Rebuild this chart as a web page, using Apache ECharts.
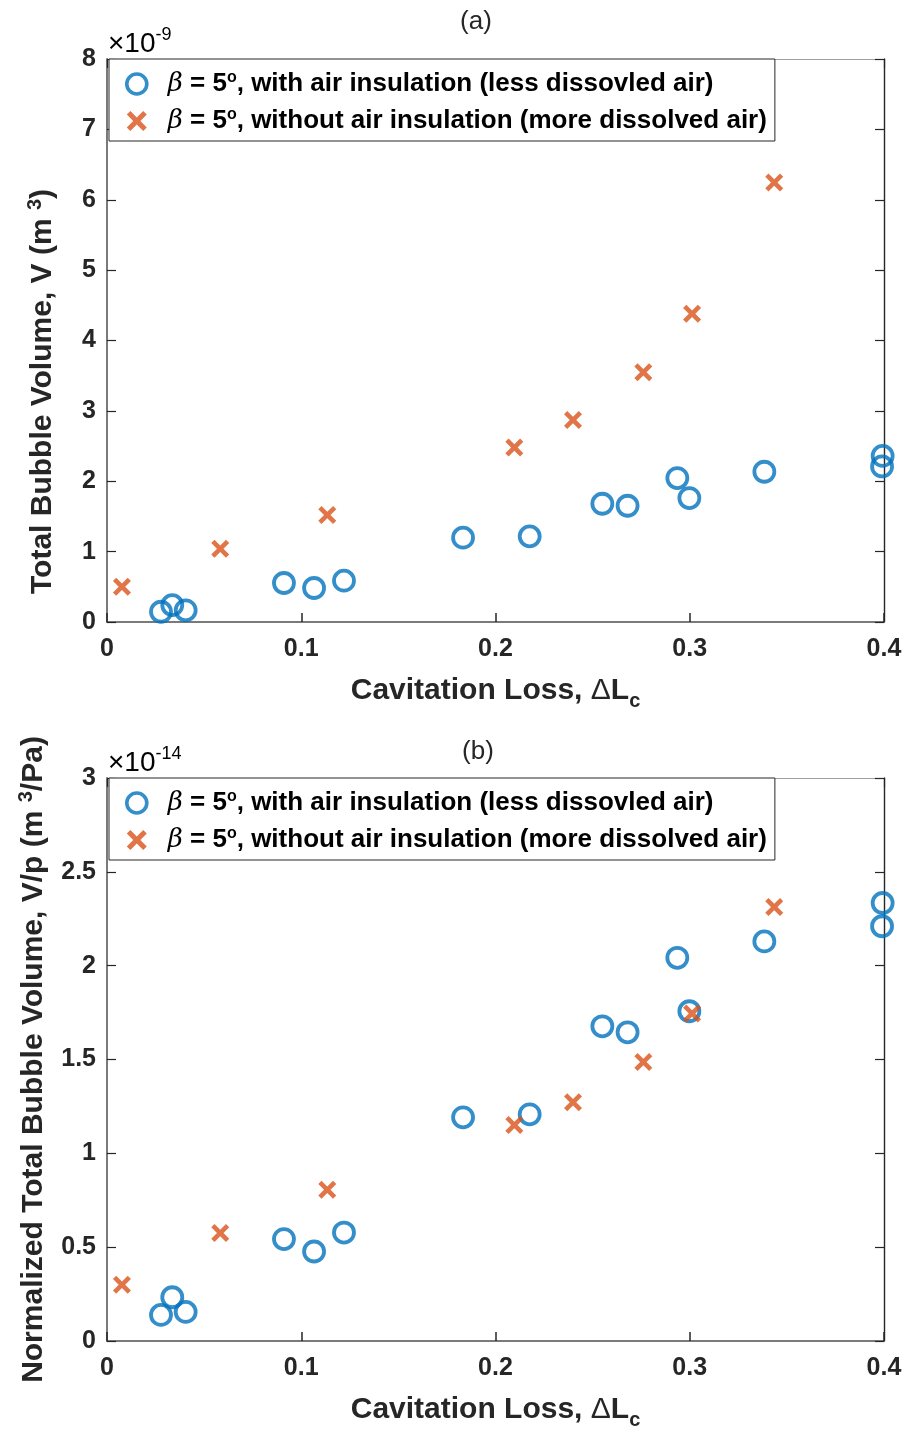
<!DOCTYPE html>
<html>
<head>
<meta charset="utf-8">
<script src="https://cdn.jsdelivr.net/npm/echarts@6/dist/echarts.min.js"></script>
<style>
  html, body { margin: 0; padding: 0; background: #fff; }
  #chart { width: 908px; height: 1437px; }
</style>
</head>
<body>
<div id="chart"></div>
<script>
// Cavitation loss (x) shared by both panels
const lossWith    = [0.0278, 0.0336, 0.0405, 0.0911, 0.1066, 0.122, 0.1833, 0.2176, 0.255, 0.268, 0.2936, 0.2998, 0.3384, 0.3993, 0.399];
const lossWithout = [0.0077, 0.0583, 0.1134, 0.2097, 0.2399, 0.2761, 0.3012, 0.3435];

// (a) total bubble volume, units of 1e-9 m^3
const volWith    = [0.146, 0.24, 0.166, 0.554, 0.483, 0.587, 1.198, 1.217, 1.68, 1.652, 2.045, 1.761, 2.135, 2.36, 2.21];
const volWithout = [0.50, 1.04, 1.52, 2.48, 2.87, 3.55, 4.38, 6.245];

// (b) normalized total bubble volume V/p, units of 1e-14 m^3/Pa
const normWith    = [0.139, 0.233, 0.155, 0.543, 0.477, 0.578, 1.192, 1.208, 1.677, 1.645, 2.042, 1.757, 2.129, 2.334, 2.21];
const normWithout = [0.30, 0.576, 0.806, 1.151, 1.272, 1.487, 1.745, 2.313];

const xTickLabels = ['0', '0.1', '0.2', '0.3', '0.4'];
const yTickLabelsA = ['0', '1', '2', '3', '4', '5', '6', '7', '8'];
const yTickLabelsB = ['0', '0.5', '1', '1.5', '2', '2.5', '3'];

const legendNames = {
  withAir: '{b|β}{n| = 5}{o|o}{n|, with air insulation (less dissovled air)}',
  withoutAir: '{b|β}{n| = 5}{o|o}{n|, without air insulation (more dissolved air)}'
};

const BLUE = '#0072BD';
const ORANGE = '#D95319';
const INK = '#262626';
const FONT = 'Liberation Sans, Arial, sans-serif';

const pairs = (xs, ys) => xs.map((x, i) => [x, ys[i]]);

// filled "x" marker outline
const crossPath = 'path://M0,18L18,0L50,32L82,0L100,18L68,50L100,82L82,100L50,68L18,100L0,82L32,50Z';

const chart = echarts.init(document.getElementById('chart'), null, { renderer: 'canvas' });

const grids = [
  { left: 107, top: 59, width: 777, height: 563 },
  { left: 107, top: 778, width: 777, height: 563 }
];

function tickFmt(labels, step) {
  return v => labels[Math.round(v / step)] ?? '';
}

const xName = '{n|Cavitation Loss, }{d|Δ}{n|L}{s|c}';
const nameRich = {
  n: { fontFamily: FONT, fontSize: 30, fontWeight: 'bold', color: INK },
  d: { fontFamily: FONT, fontSize: 30, fontWeight: 'normal', color: INK },
  s: { fontFamily: FONT, fontSize: 20, fontWeight: 'bold', color: INK, padding: [20, 0, 0, 0] },
  p: { fontFamily: FONT, fontSize: 20, fontWeight: 'bold', color: INK, padding: [0, 0, 16, 0] }
};

function xAxes(gi) {
  return [
    {
      gridIndex: gi, type: 'value', position: 'bottom', min: 0, max: 0.4, interval: 0.1,
      axisLine: { show: true, onZero: false, lineStyle: { color: '#7a7a7a', width: 2 } },
      axisTick: { show: true, inside: true, length: 9, lineStyle: { color: INK, width: 1.5 } },
      axisLabel: { show: true, margin: 15, fontFamily: FONT, fontSize: 25, fontWeight: 'bold', color: INK,
                   formatter: tickFmt(xTickLabels, 0.1) },
      splitLine: { show: false },
      name: xName, nameLocation: 'middle', nameGap: 49,
      nameTextStyle: { rich: nameRich }
    },
    {
      gridIndex: gi, type: 'value', position: 'top', min: 0, max: 0.4, interval: 0.1,
      axisLine: { show: true, onZero: false, lineStyle: { color: '#a0a0a0', width: 1 } },
      axisTick: { show: true, inside: true, length: 9, lineStyle: { color: INK, width: 1.2 } },
      axisLabel: { show: false }, splitLine: { show: false }
    }
  ];
}

function yAxes(gi, max, step, labels, name, gap, shift) {
  return [
    {
      gridIndex: gi, type: 'value', position: 'left', min: 0, max: max, interval: step,
      axisLine: { show: true, onZero: false, lineStyle: { color: '#7a7a7a', width: 2 } },
      axisTick: { show: true, inside: true, length: 9, lineStyle: { color: INK, width: 1.2 } },
      axisLabel: { show: true, margin: 11, fontFamily: FONT, fontSize: 25, fontWeight: 'bold', color: INK,
                   formatter: tickFmt(labels, step) },
      splitLine: { show: false },
      name: name, nameLocation: 'middle', nameGap: gap, nameRotate: 90,
      nameTextStyle: { rich: nameRich, padding: [0, shift, 0, 0] }
    },
    {
      gridIndex: gi, type: 'value', position: 'right', min: 0, max: max, interval: step,
      axisLine: { show: true, onZero: false, lineStyle: { color: INK, width: 1.4 } },
      axisTick: { show: true, inside: true, length: 9, lineStyle: { color: INK, width: 1.2 } },
      axisLabel: { show: false }, splitLine: { show: false }
    }
  ];
}

const legendRich = {
  b: { fontFamily: 'DejaVu Serif', fontStyle: 'italic', fontSize: 26, color: '#000' },
  n: { fontFamily: FONT, fontSize: 26, fontWeight: 'bold', color: '#000', lineHeight: 31 },
  o: { fontFamily: FONT, fontSize: 16, fontWeight: 'bold', color: '#000', padding: [0, 0, 12, 0] }
};

function legend(top) {
  return {
    orient: 'vertical', left: 109, top: top,
    data: ['withAir', 'withoutAir'],
    formatter: n => legendNames[n],
    itemWidth: 52, itemHeight: 20, itemGap: 10,
    padding: [11, 8, 7, 16],
    borderColor: INK, borderWidth: 1, backgroundColor: '#fff',
    selectedMode: false,
    itemStyle: { borderWidth: 3.6 },
    textStyle: { rich: legendRich }
  };
}

function circleSeries(xi, yi, data) {
  return {
    name: 'withAir', type: 'scatter', xAxisIndex: xi, yAxisIndex: yi, data: data,
    symbol: 'circle', symbolSize: 20,
    itemStyle: { color: 'rgba(0,0,0,0)', borderColor: BLUE, borderWidth: 3.8 },
    emphasis: { disabled: true }, z: 2
  };
}
function crossSeries(xi, yi, data) {
  return {
    name: 'withoutAir', type: 'scatter', xAxisIndex: xi, yAxisIndex: yi, data: data,
    symbol: crossPath, symbolSize: 18,
    itemStyle: { color: ORANGE, borderWidth: 0 },
    emphasis: { disabled: true }, z: 3
  };
}

const expRich = {
  m: { fontFamily: FONT, fontSize: 28, color: INK },
  e: { fontFamily: FONT, fontSize: 18, color: INK, padding: [0, 0, 18, 0] }
};

const option = {
  backgroundColor: '#fff',
  animation: false,
  grid: grids,
  xAxis: [...xAxes(0), ...xAxes(1)],
  yAxis: [
    ...yAxes(0, 8, 1, yTickLabelsA, '{n|Total Bubble Volume, V (m }{p|3}{n|)}', 46, 102),
    ...yAxes(1, 3, 0.5, yTickLabelsB, '{n|Normalized Total Bubble Volume, V/p (m }{p|3}{n|/Pa)}', 55, 0)
  ],
  legend: [legend(59), legend(778)],
  graphic: [
    { type: 'text', x: 476, y: 22, style: { text: '(a)', align: 'center', verticalAlign: 'middle',
      fontFamily: FONT, fontSize: 26, fill: INK } },
    { type: 'text', x: 478, y: 752, style: { text: '(b)', align: 'center', verticalAlign: 'middle',
      fontFamily: FONT, fontSize: 26, fill: INK } },
    { type: 'text', x: 108, y: 44, style: { text: '{m|×10}{e|-9}', rich: expRich, verticalAlign: 'middle' } },
    { type: 'text', x: 108, y: 763, style: { text: '{m|×10}{e|-14}', rich: expRich, verticalAlign: 'middle' } }
  ],
  series: [
    circleSeries(0, 0, pairs(lossWith, volWith)),
    crossSeries(0, 0, pairs(lossWithout, volWithout)),
    circleSeries(2, 2, pairs(lossWith, normWith)),
    crossSeries(2, 2, pairs(lossWithout, normWithout))
  ]
};

chart.setOption(option);
</script>
</body>
</html>
